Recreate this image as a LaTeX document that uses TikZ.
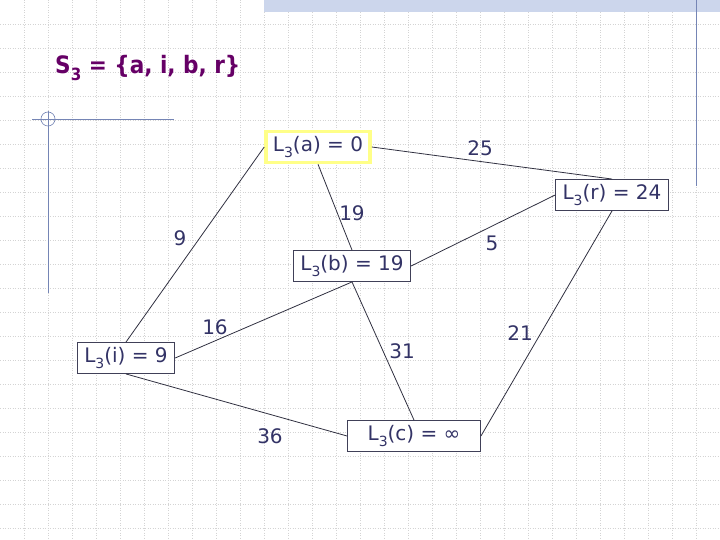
\documentclass[tikz,border=0pt]{standalone}
\usepackage{fontspec}
\setmainfont{DejaVu Sans}
\newfontfamily\titlefont{DejaVu Sans Condensed}

\definecolor{ink}{HTML}{333366}
\definecolor{titlecol}{HTML}{660066}
\definecolor{boxline}{HTML}{404058}
\definecolor{edgeline}{HTML}{303040}
\definecolor{hilite}{HTML}{FFFF88}
\definecolor{deco}{HTML}{7585B5}
\definecolor{band}{HTML}{CCD6EC}
\definecolor{gridcol}{HTML}{D4D4D4}

\newcommand{\lowsub}[1]{\raisebox{-0.5ex}{\scalebox{0.7}{#1}}}

\tikzset{
  vertex/.style={draw=boxline, line width=0.9pt, fill=white, text=ink,
    inner xsep=7pt, minimum height=31pt, font=\fontsize{20}{24}\selectfont},
  start/.style={vertex, draw=hilite, line width=3.5pt},
  weight/.style={text=ink, inner sep=0pt, font=\fontsize{20}{24}\selectfont},
  edge/.style={draw=edgeline, line width=0.8pt},
  gridline/.style={draw=gridcol, line width=0.5pt, dotted},
}

\begin{document}
\begin{tikzpicture}[x=1pt,y=-1pt]
      % Bounding box
      \useasboundingbox (0,0) rectangle (720,540);

      % slide background
      \foreach \gx in {24,48,...,720}
        \draw[gridline] (\gx,0) -- (\gx,540);
      \foreach \gy in {24,48,...,528}
        \draw[gridline] (0,\gy) -- (720,\gy);
      \fill[band] (264,0) rectangle (720,12);
      \draw[deco, line width=0.8pt] (696,0) -- (696,186);
      \draw[deco, line width=0.8pt] (32,119) -- (174,119);
      \draw[deco, line width=0.8pt] (48,111) -- (48,293);
      \draw[deco, line width=0.6pt] (48,119) circle (7);

      \node (title)[anchor=base west, text=titlecol, inner sep=0pt,
        font=\fontsize{24}{28}\selectfont\titlefont\bfseries]
        at (55,74) {S\lowsub{3} = \{a, i, b, r\}};

      % vertices
      \node (a)[start] at (318,147) {L\lowsub{3}(a) = 0};
      \node (r)[vertex] at (612,195) {L\lowsub{3}(r) = 24};
      \node (b)[vertex] at (352,266) {L\lowsub{3}(b) = 19};
      \node (i)[vertex] at (126,358) {L\lowsub{3}(i) = 9};
      \node (c)[vertex, minimum width=133pt] at (414,436) {L\lowsub{3}(c) = ∞};

      % weights
      \node (w25)[weight] at (480,148) {25};
      \node (w19)[weight] at (352,213) {19};
      \node (w9)[weight] at (180,238) {9};
      \node (w5)[weight] at (492,243) {5};
      \node (w16)[weight] at (215,327) {16};
      \node (w31)[weight] at (402,351) {31};
      \node (w21)[weight] at (520,333) {21};
      \node (w36)[weight] at (270,436) {36};

      % edges
      \draw[edge] (a.west) -- (i.north);
      \draw[edge] (a.east) -- (r.north);
      \draw[edge] (a.south) -- (b.north);
      \draw[edge] (b.east) -- (r.west);
      \draw[edge] (b.south) -- (c.north);
      \draw[edge] (i.east) -- (b.south);
      \draw[edge] (i.south) -- (c.west);
      \draw[edge] (c.east) -- (r.south);
\end{tikzpicture}
\end{document}
